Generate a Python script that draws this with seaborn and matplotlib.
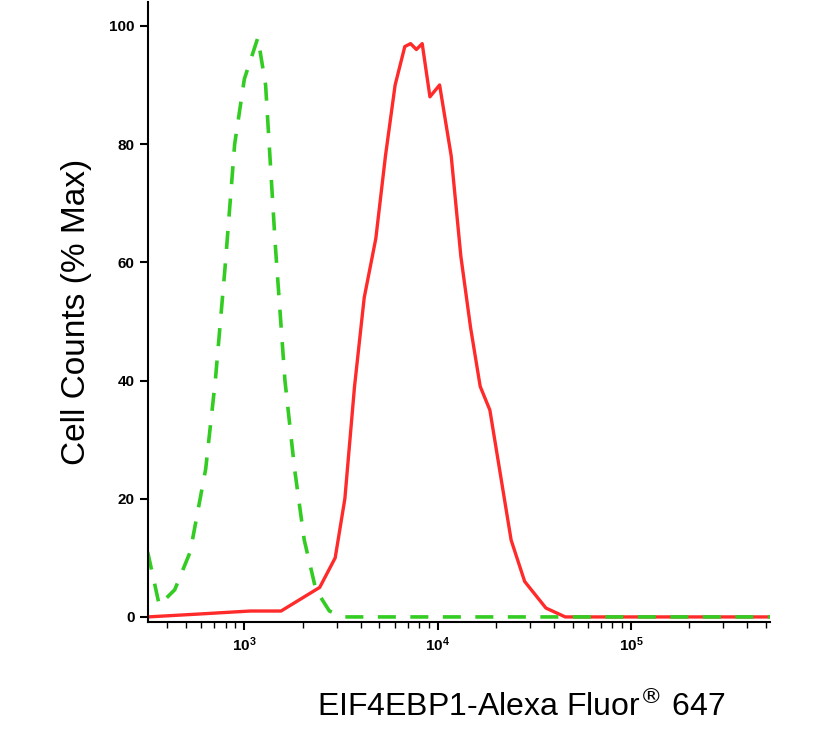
import numpy as np
import matplotlib
matplotlib.use("Agg")
import matplotlib.pyplot as plt
import seaborn as sns
import pandas as pd

sns.set_theme(style="ticks")
plt.rcParams['font.family'] = ['Liberation Sans', 'DejaVu Sans']
plt.rcParams['text.color'] = 'black'
plt.rcParams['axes.labelcolor'] = 'black'
plt.rcParams['xtick.color'] = 'black'
plt.rcParams['ytick.color'] = 'black'

# log10 intensity and % max
green_log = [2.50, 2.56, 2.64, 2.72, 2.80, 2.85, 2.90, 2.95, 3.00, 3.07, 3.11, 3.16, 3.21, 3.26, 3.31, 3.37, 3.44, 3.52, 3.70, 4.00, 4.50, 5.00, 5.72]
green_val = [11, 2, 4.6, 11, 25, 40, 59, 80, 91, 98, 90, 63, 40, 25, 13, 4.6, 1, 0, 0, 0, 0, 0, 0]
red_log = [2.50, 2.77, 3.03, 3.19, 3.29, 3.39, 3.47, 3.52, 3.57, 3.62, 3.68, 3.73, 3.78, 3.83, 3.86, 3.89, 3.92, 3.96, 4.01, 4.07, 4.12, 4.17, 4.22, 4.27, 4.33, 4.38, 4.45, 4.56, 4.66, 5.00, 5.72]
red_val = [0, 0.5, 1, 1, 3, 5, 10, 20, 39, 54, 64, 78, 90, 96.5, 97, 96, 97, 88, 90, 78, 61, 49, 39, 35, 23, 13, 6, 1.5, 0, 0, 0]

fig = plt.figure(figsize=(8.39, 7.47), dpi=100)
ax = fig.add_axes([0.176, 0.167, 0.742, 0.83])
g = pd.DataFrame({"x": 10 ** np.array(green_log), "y": green_val})
r = pd.DataFrame({"x": 10 ** np.array(red_log), "y": red_val})
sns.lineplot(data=r, x="x", y="y", color="#ff2a2a", lw=2.4, ax=ax)
sns.lineplot(data=g, x="x", y="y", color="#33cc22", lw=2.6, ls=(0, (5, 4)), ax=ax)
ax.set_xscale("log")
ax.set_xlim(10 ** 2.5, 10 ** 5.72)
ax.set_ylim(-0.9, 104)
ax.set_yticks([0, 20, 40, 60, 80, 100])
ax.set_xticks([1e3, 1e4, 1e5])
ax.tick_params(axis="both", labelsize=11, direction="out", length=6, width=1.5)
ax.tick_params(which="minor", length=4, width=1)
for lab in ax.get_yticklabels() + ax.get_xticklabels():
    lab.set_fontweight("bold")
for s in ["top", "right"]:
    ax.spines[s].set_visible(False)
for s in ["left", "bottom"]:
    ax.spines[s].set_linewidth(1.5)
    ax.spines[s].set_color("black")
ax.set_ylabel("Cell Counts (% Max)", fontsize=24, labelpad=12)
ax.set_xlabel("EIF4EBP1-Alexa Fluor$^{®}$ 647", fontsize=23, labelpad=18)
ax.xaxis.set_label_coords(0.6, -0.11)
fig.savefig("out.png", dpi=100)
